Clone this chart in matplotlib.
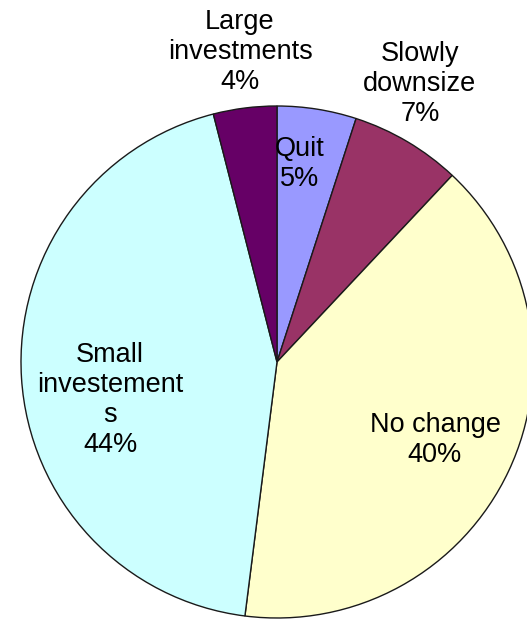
import matplotlib.pyplot as plt

labels = ["Quit", "Slowly\ndownsize", "No change", "Small\ninvestement\ns", "Large\ninvestments"]
shares = [5, 7, 40, 44, 4]
colors = ["#9999ff", "#993366", "#ffffcc", "#ccffff", "#660066"]
# label centres in pixel coords (x, y from top)
label_pos = [(300, 164), (420, 84), (435, 440), (110, 400), (240, 52)]

W, H = 527, 620
fig = plt.figure(figsize=(W / 100, H / 100), dpi=100)
ax = fig.add_axes([0, 0, 1, 1])

ax.pie(shares, colors=colors, startangle=90, counterclock=False,
       center=(277, H - 362), radius=256, frame=True,
       wedgeprops=dict(edgecolor="#1a1a1a", linewidth=1))
ax.set_xlim(0, W)
ax.set_ylim(0, H)
ax.set_aspect("equal")
ax.axis("off")

for lab, val, (x, y) in zip(labels, shares, label_pos):
    ax.text(x, H - y, f"{lab}\n{val}%", ha="center", va="center",
            fontsize=19.5, family="Liberation Sans", color="black",
            linespacing=1.2)

fig.savefig("out.png", dpi=100)
